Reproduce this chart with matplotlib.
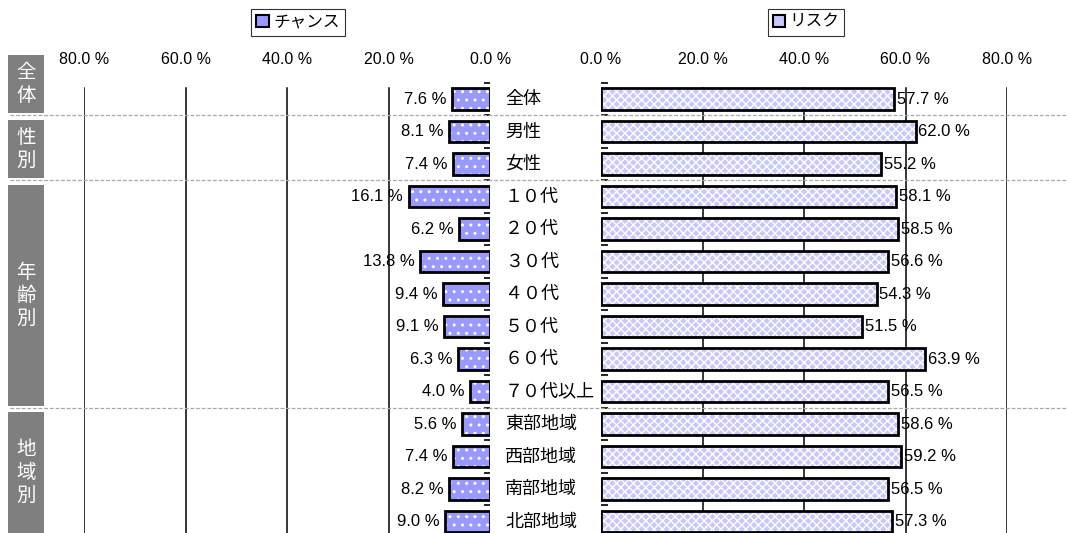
import matplotlib
matplotlib.use("Agg")
import matplotlib.pyplot as plt
from matplotlib.patches import Rectangle, Patch
from matplotlib.lines import Line2D
from matplotlib.transforms import blended_transform_factory
import numpy as np

plt.rcParams['font.family'] = ['Liberation Sans', 'Noto Sans CJK JP', 'DejaVu Sans']
plt.rcParams['hatch.linewidth'] = 1.0

categories = ["全体", "男性", "女性", "１０代", "２０代", "３０代", "４０代", "５０代",
              "６０代", "７０代以上", "東部地域", "西部地域", "南部地域", "北部地域"]
chance = [7.6, 8.1, 7.4, 16.1, 6.2, 13.8, 9.4, 9.1, 6.3, 4.0, 5.6, 7.4, 8.2, 9.0]
risk = [57.7, 62.0, 55.2, 58.1, 58.5, 56.6, 54.3, 51.5, 63.9, 56.5, 58.6, 59.2, 56.5, 57.3]
x_ticks = [0, 20, 40, 60, 80]
x_ticklabels = ["0.0 %", "20.0 %", "40.0 %", "60.0 %", "80.0 %"]
groups = [("全体", 55, 113), ("性別", 120, 178), ("年齢別", 185, 406), ("地域別", 412, 540)]
separators = [0.5, 2.5, 9.5]

W, H = 1067, 533
fig = plt.figure(figsize=(W / 100, H / 100), dpi=100)

top_px, bot_px = 82.75, 537.75
ax_b = 1 - bot_px / H
ax_h = (bot_px - top_px) / H
axL = fig.add_axes([84 / W, ax_b, (490.5 - 84) / W, ax_h])
axR = fig.add_axes([601 / W, ax_b, (1007 - 601) / W, ax_h])

y = np.arange(len(categories))
bar_h = 0.66

CH_COLOR = '#9999ff'
RK_COLOR = '#c8c8fa'

# chance bars
axL.barh(y, chance, height=bar_h, color=CH_COLOR, edgecolor='white', hatch='..', linewidth=0, zorder=3)
axL.barh(y, chance, height=bar_h, fill=False, edgecolor='black', linewidth=2, zorder=4)
# risk bars
axR.barh(y, risk, height=bar_h, color=RK_COLOR, edgecolor='white', hatch='xxxx', linewidth=0, zorder=3)
axR.barh(y, risk, height=bar_h, fill=False, edgecolor='black', linewidth=2, zorder=4)

for i, v in enumerate(chance):
    axL.annotate(f"{v:.1f} %", xy=(v, i), xytext=(-4, 0), textcoords='offset points',
                 ha='right', va='center', fontsize=12)
for i, v in enumerate(risk):
    axR.annotate(f"{v:.1f} %", xy=(v, i), xytext=(2, 0), textcoords='offset points',
                 ha='left', va='center', fontsize=12)

for ax in (axL, axR):
    ax.set_xlim(0, 80)
    ax.set_ylim(len(categories) - 0.5, -0.5)
    ax.set_xticks(x_ticks)
    ax.set_xticklabels(x_ticklabels, fontsize=11.5)
    ax.xaxis.set_ticks_position('top')
    ax.tick_params(axis='x', length=0, pad=11)
    for s in ax.spines.values():
        s.set_visible(False)
    ax.set_yticks([])
    ax.set_yticks(np.arange(len(categories) + 1) - 0.5, minor=True)
    for xv in x_ticks[1:]:
        ax.axvline(xv, ymin=0, ymax=0.988, color='black', linewidth=1.1, zorder=1, snap=True)
    ax.patch.set_alpha(0)

axL.invert_xaxis()
axL.yaxis.set_ticks_position('right')
axL.tick_params(axis='y', which='minor', direction='in', length=4, width=1.2, color='black')
axR.yaxis.set_ticks_position('left')
axR.tick_params(axis='y', which='minor', direction='in', length=5, width=1.2, color='black')

# category labels
trans = blended_transform_factory(fig.transFigure, axR.transData)
for i, c in enumerate(categories):
    fig.text(505 / W, i, c, transform=trans, ha='left', va='center', fontsize=13,
             family=['Noto Sans CJK JP', 'DejaVu Sans'])

# dashed separators
for s in separators:
    fig.add_artist(Line2D([10 / W, 1.0], [s, s], transform=trans, color='#a8a8a8',
                          linestyle=(0, (3, 1.5)), linewidth=0.9))

# group panels
for name, y0, y1 in groups:
    fig.add_artist(Rectangle((8 / W, 1 - y1 / H), 36 / W, (y1 - y0) / H,
                             transform=fig.transFigure, facecolor='#7f7f7f', edgecolor='none'))
    yc = (y0 + min(y1, H)) / 2
    n = len(name)
    step = 22.5
    for k, ch in enumerate(name):
        yy = yc + (k - (n - 1) / 2) * step
        fig.text(26 / W, 1 - yy / H, ch, ha='center', va='center', color='white', fontsize=14,
                 family=['Noto Sans CJK JP', 'DejaVu Sans'])

# legends
hL = Patch(facecolor=CH_COLOR, edgecolor='black', linewidth=1.5)
hR = Patch(facecolor=RK_COLOR, edgecolor='black', linewidth=1.5)
for ax, h, lab, xc in ((axL, hL, "チャンス", 298), (axR, hR, "リスク", 806)):
    leg = fig.legend([h], [lab], loc='center', bbox_to_anchor=(xc / W, 1 - 22 / H),
                     frameon=True, fancybox=False, handlelength=0.75,
                     handleheight=0.75, handletextpad=0.25, borderpad=0.3, borderaxespad=0,
                     prop={'family': ['Noto Sans CJK JP', 'DejaVu Sans'], 'size': 12})
    leg.get_frame().set_edgecolor('black')
    leg.get_frame().set_linewidth(0.8)

fig.savefig('out.png', dpi=100)
